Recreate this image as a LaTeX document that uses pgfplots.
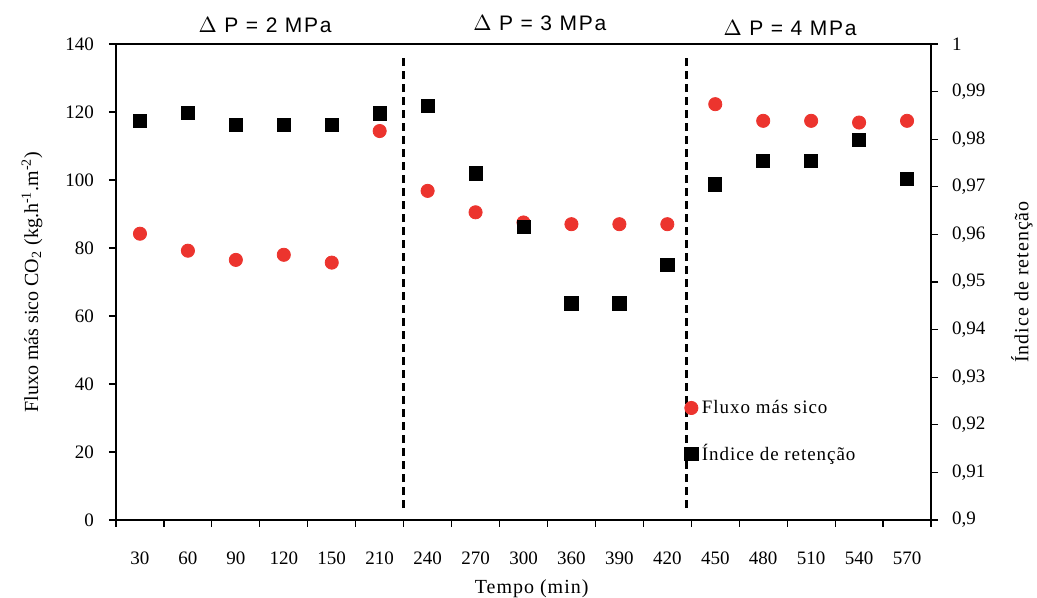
\documentclass[border=0pt]{standalone}
\usepackage{fontspec}
\setmainfont{Liberation Serif}
\newfontfamily\arialsp[LetterSpace=8]{Liberation Sans}
\newfontfamily\serifsp[LetterSpace=5]{Liberation Serif}
\usepackage{pgfplots}
\pgfplotsset{compat=1.18}
\definecolor{myred}{RGB}{236,52,46}

\pgfplotstableread{
x y
0 84.2
1 79.2
2 76.5
3 78.0
4 75.7
5 114.4
6 96.8
7 90.5
8 87.5
9 87.0
10 87.0
11 87.0
12 122.3
13 117.4
14 117.4
15 116.9
16 117.4
}\fluxo

\pgfplotstableread{
x y
0 0.9839
1 0.9856
2 0.9830
3 0.9830
4 0.9830
5 0.9854
6 0.9870
7 0.9728
8 0.9616
9 0.9455
10 0.9455
11 0.9536
12 0.9705
13 0.9754
14 0.9754
15 0.9798
16 0.9716
}\indice

\begin{document}
\begin{tikzpicture}
\pgfplotsset{
  common/.style={
    scale only axis, width=407.5pt, height=238pt,
    xmin=-0.5, xmax=16.5,
    clip=false,
    tick align=outside,
    major tick length=3.5pt,
    axis line style={line width=0.6pt},
    tick style={line width=0.6pt, black},
    font=\fontsize{9.5}{11}\selectfont,
    /pgf/number format/assume math mode=true,
  }
}
\begin{axis}[common,
  ymin=0, ymax=140, ytick={0,20,...,140},
  xtick={-0.5,0.5,...,16.5},
  x tick label as interval,
  xticklabels={30,60,90,120,150,210,240,270,300,360,390,420,450,480,510,540,570},
  xtick pos=bottom, ytick pos=left,
  xticklabel style={anchor=base, yshift=-18.5pt},
  yticklabel style={anchor=east, xshift=-4pt},
  ylabel={Fluxo más sico CO\textsubscript{2} (kg.h\textsuperscript{-1}.m\textsuperscript{-2})},
  ylabel style={at={(rel axis cs:0,0.5)}, anchor=center, rotate=0, yshift=42pt, font=\fontsize{10}{12}\selectfont},
  xlabel={\serifsp Tempo (min)},
  xlabel style={at={(rel axis cs:0.51,0)}, anchor=base, yshift=-37pt, font=\fontsize{10}{12}\selectfont},
]
\coordinate (bl) at (rel axis cs:0,0);
\coordinate (tr) at (rel axis cs:1,1);
\addplot[only marks, mark=*, mark size=3.3pt, color=myred] table[x=x,y=y] {\fluxo};
\draw[line width=1.2pt, dash pattern=on 4pt off 2.5pt] (axis cs:5.5,3.5) -- (axis cs:5.5,137);
\draw[line width=1.2pt, dash pattern=on 4pt off 2.5pt] (axis cs:11.4,3.5) -- (axis cs:11.4,137);
\node[anchor=base, font=\arialsp\fontsize{10.5}{12}\selectfont] at (axis cs:2.61,143.5) {$\Delta$ P = 2 MPa};
\node[anchor=base, font=\arialsp\fontsize{10.5}{12}\selectfont] at (axis cs:8.34,144.1) {$\Delta$ P = 3 MPa};
\node[anchor=base, font=\arialsp\fontsize{10.5}{12}\selectfont] at (axis cs:13.56,142.4) {$\Delta$ P = 4 MPa};
\end{axis}
\begin{axis}[common,
  ymin=0.9, ymax=1,
  ytick={0.9,0.91,0.92,0.93,0.94,0.95,0.96,0.97,0.98,0.99,1},
  axis y line*=right, axis x line=none,
  yticklabel style={anchor=west, xshift=3.5pt, /pgf/number format/.cd, fixed, use comma, precision=2},
  ylabel={\serifsp Índice de retenção},
  ylabel style={at={(rel axis cs:1,0.5)}, anchor=center, rotate=0, yshift=-45.5pt, font=\fontsize{10}{12}\selectfont},
  legend style={at={(rel axis cs:0.69,0.27)}, anchor=north west, draw=none, fill=none,
    font=\serifsp\fontsize{9.5}{11}\selectfont, row sep=10pt},
  legend cell align=left,
]
\addlegendimage{only marks, mark=*, mark size=3.3pt, color=myred}
\addlegendentry{Fluxo más sico}
\addplot[only marks, mark=square*, mark size=3.3pt, black] table[x=x,y=y] {\indice};
\addlegendentry{Índice de retenção}
\end{axis}
\pgfresetboundingbox
\path ([shift={(-58pt,-39pt)}]bl) rectangle ([shift={(53pt,22pt)}]tr);
\end{tikzpicture}
\end{document}
